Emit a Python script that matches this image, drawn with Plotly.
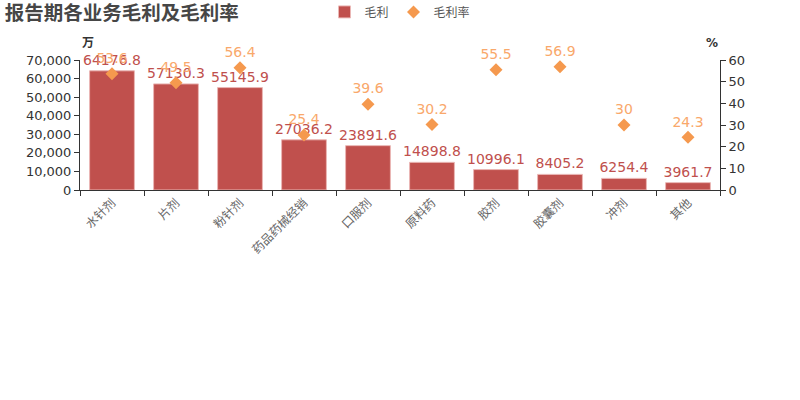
import plotly.graph_objects as go

categories = ["水针剂", "片剂", "粉针剂", "药品药械经销", "口服剂", "原料药", "胶剂", "胶囊剂", "冲剂", "其他"]
gross_profit = [64176.8, 57130.3, 55145.9, 27036.2, 23891.6, 14898.8, 10996.1, 8405.2, 6254.4, 3961.7]
margin_rate = [53.6, 49.5, 56.4, 25.4, 39.6, 30.2, 55.5, 56.9, 30, 24.3]

font_family = "DejaVu Sans, Noto Sans CJK SC, sans-serif"

fig = go.Figure()
fig.add_trace(go.Bar(
    x=categories, y=gross_profit, name="毛利",
    marker=dict(color="#c0504d", line=dict(color="#eab7b5", width=1)),
    text=[f"{v}" for v in gross_profit], textposition="outside",
    textfont=dict(color="#c0504d", size=14), cliponaxis=False,
    constraintext="none", width=0.7,
))
fig.add_trace(go.Scatter(
    x=categories, y=margin_rate, name="毛利率", yaxis="y2", mode="markers+text",
    marker=dict(symbol="diamond", size=10, color="#f5994e"),
    text=[f"{v:g}" for v in margin_rate], textposition="top center",
    textfont=dict(color="#f9a86b", size=14), cliponaxis=False,
))

fig.update_layout(
    width=800, height=400,
    margin=dict(l=80, r=80, t=60, b=210, autoexpand=False),
    plot_bgcolor="white", paper_bgcolor="white",
    font=dict(family=font_family, color="#333"),
    title=dict(text="<b>报告期各业务毛利及毛利率</b>", xref="container", yref="container",
               x=0.006, y=0.967, xanchor="left", yanchor="middle",
               font=dict(size=19.5, color="#464646")),
    legend=dict(orientation="h", xref="paper", yref="paper", x=0.5, y=1.37,
                xanchor="center", yanchor="middle", font=dict(size=12, color="#555")),
    bargap=0.3,
    xaxis=dict(range=[-0.5, len(categories) - 0.5], autorange=False,
               showgrid=False, showline=True, linecolor="#333", ticks="outside",
               tickson="boundaries", ticklen=5, tickcolor="#333", tickangle=-45,
               automargin=False,
               tickfont=dict(size=12, color="#666", family="Noto Sans CJK SC, serif")),
    yaxis=dict(range=[0, 70000], dtick=10000, tickformat=",", showgrid=False,
               showline=True, linecolor="#333", ticks="outside", ticklen=5, automargin=False,
               tickcolor="#333", tickfont=dict(size=13, color="#333"), zeroline=False),
    yaxis2=dict(range=[0, 60], dtick=10, overlaying="y", side="right", showgrid=False,
                showline=True, linecolor="#333", ticks="outside", ticklen=5, automargin=False,
                tickcolor="#333", tickfont=dict(size=13, color="#333"), zeroline=False),
    annotations=[
        dict(text="<b>万</b>", xref="paper", yref="paper", x=0, y=1, yshift=26,
             showarrow=False, font=dict(size=12, color="#333")),
        dict(text="<b>%</b>", xref="paper", yref="paper", x=1, y=1, yshift=26,
             showarrow=False, font=dict(size=12, color="#333")),
    ],
)

fig.write_html("out.html")
